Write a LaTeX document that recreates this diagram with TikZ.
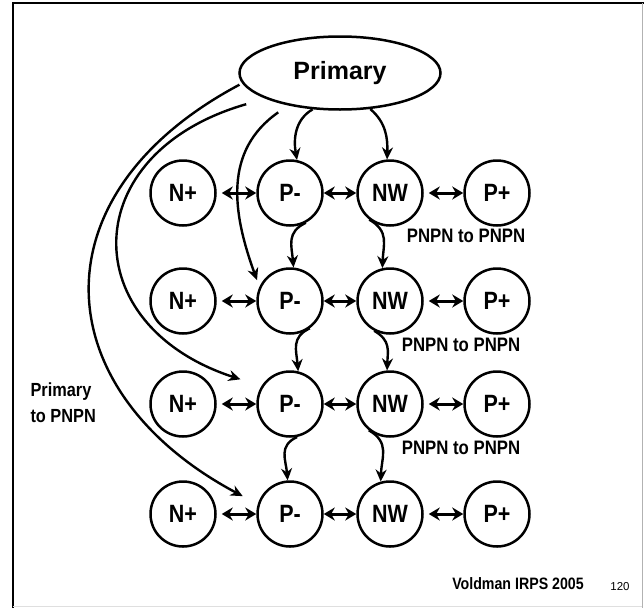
\documentclass[tikz,border=0pt]{standalone}
\usepackage{fontspec}
\setmainfont{Liberation Sans}
\newfontfamily\narrowfont[FakeStretch=0.86]{Liberation Sans}
\usepackage{xcolor}
\usepackage{tikz}
\usetikzlibrary{positioning, arrows.meta, shapes.geometric, calc}

\begin{document}
\begin{tikzpicture}[
    x=1pt, y=-1pt,
    layer circle/.style={circle, draw, line width=2.5pt, minimum size=65pt, inner sep=0pt, font=\narrowfont\fontsize{25}{27}\selectfont\bfseries},
    link/.style={{Stealth[length=11pt,width=13pt]}-{Stealth[length=11pt,width=13pt]}, line width=3pt},
    flow/.style={-{Stealth[length=12pt,width=11pt]}, line width=2.4pt},
    note label/.style={font=\narrowfont\fontsize{19.5}{21}\selectfont\bfseries}
]

\useasboundingbox (0,0) rectangle (644,608);

% --- 1. Frame ---
\draw[line width=2.5pt] (13,608) -- (13,3) -- (644,3);
\draw[gray!60, line width=1pt] (642,3) -- (642,608);
\draw[gray!25, line width=1pt] (13,606) -- (642,606);

% --- 2. Primary ---
\node[ellipse, draw, line width=2.5pt, minimum width=201pt, minimum height=73pt,
      font=\fontsize{25}{27}\selectfont\bfseries] (prim) at (340,73) {Primary};

% --- 3. Rows of regions ---
\foreach \r/\y in {1/193, 2/301, 3/404, 4/514}{
    \node[layer circle] (n\r) at (183,\y) {N+};
    \node[layer circle] (p\r) at (290,\y) {P-};
    \node[layer circle] (w\r) at (390,\y) {NW};
    \node[layer circle] (q\r) at (497,\y) {P+};

    \draw[link, shorten <=5pt] (n\r) -- (p\r);
    \draw[link] (p\r) -- (w\r);
    \draw[link, shorten <=5pt] (w\r) -- (q\r);
}

% --- 4. Primary to first row ---
\draw[flow] (prim.233) to[out=210, in=100] (p1.78);
\draw[flow] (prim.-50) to[out=-40, in=88] (w1.95);

% --- 5. PNPN to PNPN ---
\foreach \r/\s/\a/\b/\c/\d in {
    1/2/-62/84/-128/103,
    2/3/-54/76/-118/95,
    3/4/-78/94/-129/106
}{
    \draw[flow] (p\r.\a) to[out=205, in=95, looseness=1.2] (p\s.\b);
    \draw[flow] (w\r.\c) to[out=-30, in=88, looseness=1.2] (w\s.\d);
}

\node[note label] (pp1) at (466,236) {PNPN to PNPN};
\node[note label] (pp2) at (461,345) {PNPN to PNPN};
\node[note label] (pp3) at (461,448) {PNPN to PNPN};

% --- 6. Primary to PNPN ---
\draw[flow, shorten <=12pt, shorten >=7pt] (prim.212) to[out=215, in=110, looseness=1.1] (p2.155);
\draw[flow, shorten <=20pt, shorten >=22pt] (prim.199) to[out=196, in=162, looseness=1.75] (p3.148);
\draw[flow, shorten <=3pt, shorten >=17pt] (prim.186) to[out=208, in=152, looseness=1.45] (p4.163);

\node[align=left, anchor=west, font=\narrowfont\fontsize{19}{26}\selectfont\bfseries] (side) at (27,403) {Primary\\to PNPN};

% --- 7. Source ---
\node[font=\narrowfont\fontsize{16.5}{18}\selectfont\bfseries] (src) at (518,584) {Voldman IRPS 2005};
\node[font=\fontsize{11.5}{13}\selectfont] (pg) at (620,587) {120};

\end{tikzpicture}
\end{document}
